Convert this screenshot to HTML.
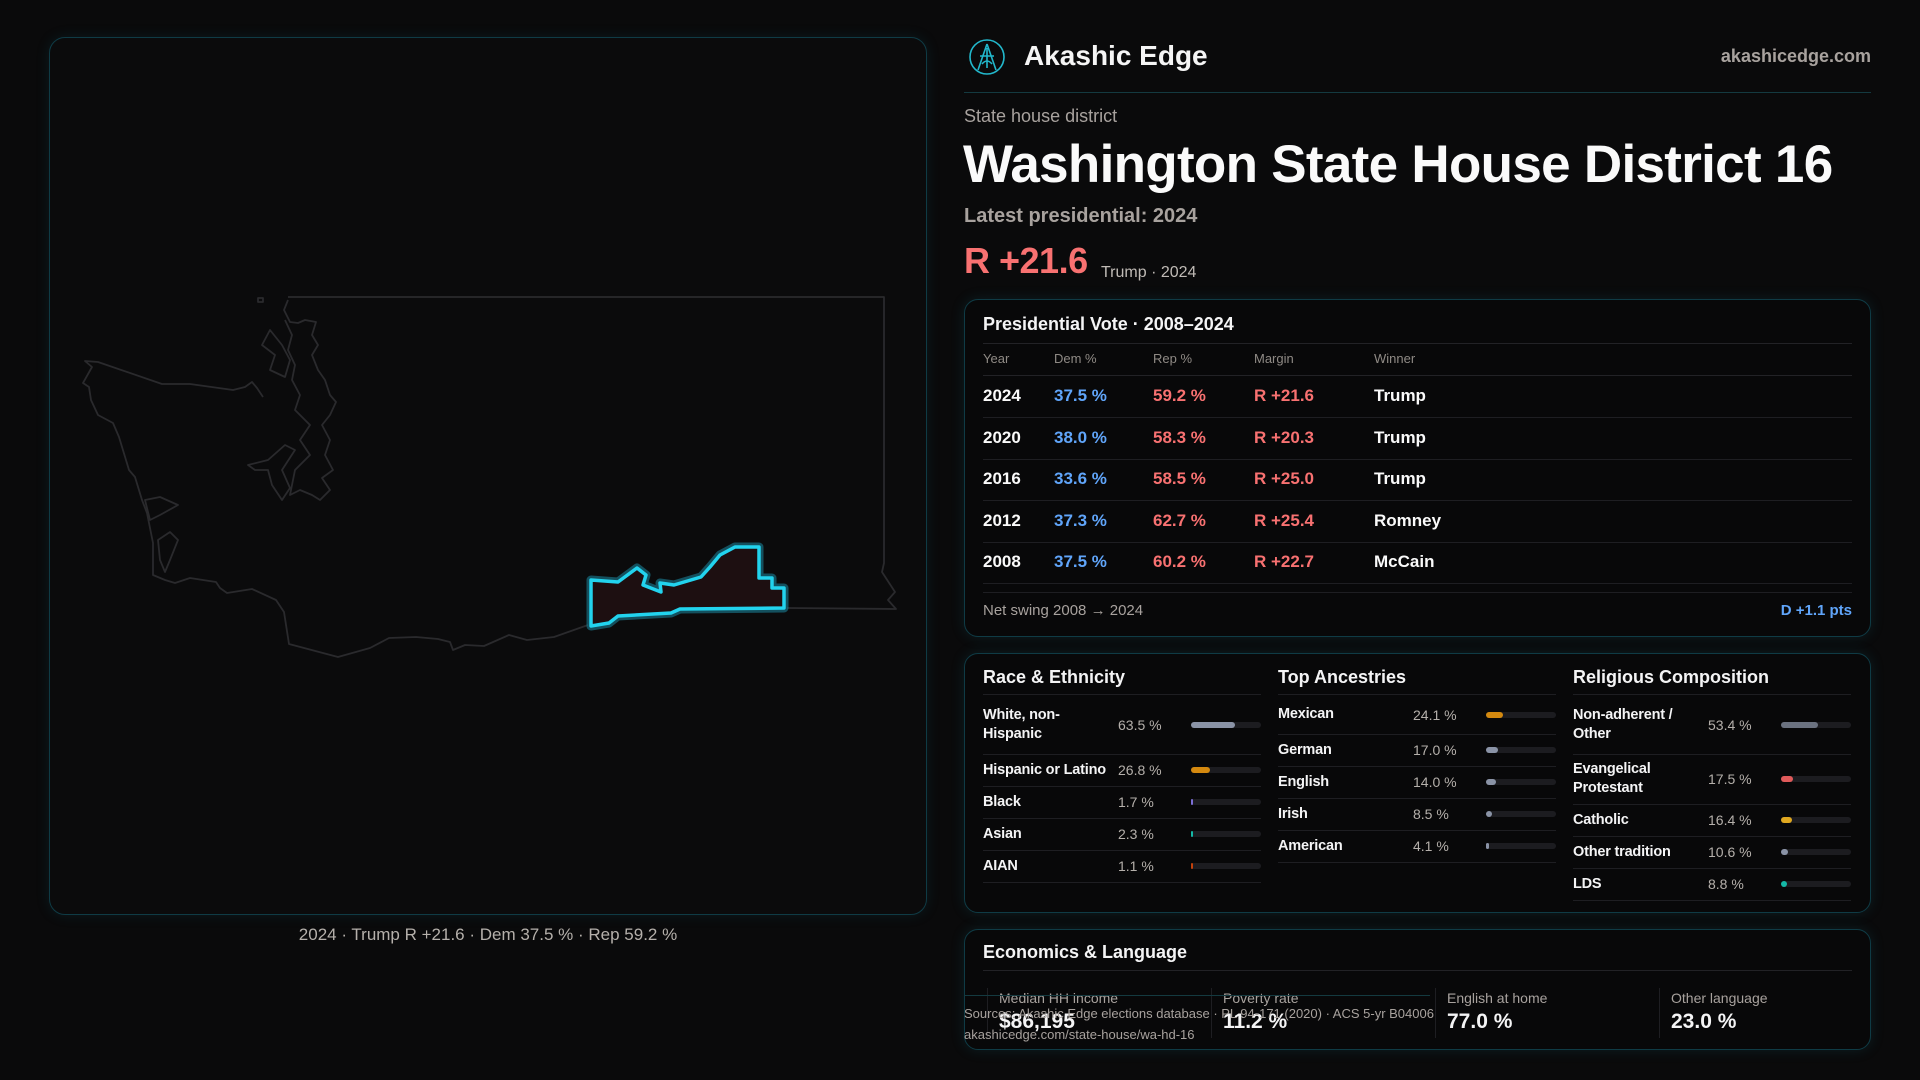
<!DOCTYPE html>
<html><head><meta charset="utf-8">
<style>
*{box-sizing:border-box;margin:0;padding:0}
body{width:1920px;height:1080px;background:#0a0a0b;font-family:"Liberation Sans",sans-serif;color:#f4f4f5;position:relative;overflow:hidden}
.abs{position:absolute;white-space:nowrap}
.card{position:absolute;left:964px;width:907px;border:1px solid #0f3b45;border-radius:14px;background:#080809;box-shadow:0 0 14px rgba(20,120,140,0.18)}
.muted{color:#a8a29e}
.line{position:absolute;height:1px;background:#222226}
.dem{color:#60a5fa}.rep{color:#f87171}
</style></head><body>
<div style="position:absolute;left:49px;top:37px;width:878px;height:878px;border:1px solid #0f3b45;border-radius:16px;background:#0b0b0c;box-shadow:0 0 14px rgba(20,120,140,0.15)"></div>
<svg class="abs" style="left:0;top:0" width="960" height="1080">
<g fill="none" stroke="#2a2a2d" stroke-width="1.8" stroke-linejoin="round">
<path d="M288,297 L884,297 L884,563 L882,572 L895,592 L888,600 L896,609 L787,608 M588,625 L554,637 L527,640 L509,635 L484,646 L465,645 L453,650 L450,642 L438,639 L416,637 L389,638 L370,648 L338,657 L289,644 L284,612 L276,600 L252,589 L227,593 L220,588 L216,582 L190,578 L175,583 L165,580 L153,575 L153,543 L147,513 L142,500 L135,477 L129,470 L119,437 L113,423 L98,415 L91,400 L89,387 L83,383 L92,367 L85,361 L98,362 L162,384 L190,384 L233,390 L245,387 L252,382 L257,388 L263,397"/>
<path d="M288,300 L284,310 L290,322 L298,323 L305,320 L316,322 L312,335 L318,345 L312,355 L318,370 L325,380 L330,395 L336,402 L330,415 L322,425 L330,440 L325,455 L333,470 L322,478 L330,490 L320,500 L312,495 L300,490 L290,495 L295,470 L310,455 L300,440 L310,425 L295,410 L300,395 L292,380 L295,365 L288,350 L292,335 L285,320 M270,330 L262,345 L275,355 L270,370 L285,377 L290,360 L282,345 Z M248,465 L268,460 L285,445 L295,450 L282,470 L290,488 L282,500 L272,485 L268,470 L255,470 Z M145,500 L160,497 L178,505 L160,515 L150,520 Z M158,540 L170,532 L178,540 L170,560 L165,572 L160,560 Z M258,298 L263,298 L263,302 L258,302 Z"/>
</g>
<polygon points="591,580 618,582 637,568 646,575 643,585 661,592 660,583 674,585 701,577 710,567 720,555 735,547 759,547 759,578 772,578 772,588 784,588 784,608 680,609 671,613 618,616 609,623 591,626" fill="#1d0f11" stroke="#1a7f95" stroke-width="9" stroke-linejoin="round" opacity="0.6"/>
<polygon points="591,580 618,582 637,568 646,575 643,585 661,592 660,583 674,585 701,577 710,567 720,555 735,547 759,547 759,578 772,578 772,588 784,588 784,608 680,609 671,613 618,616 609,623 591,626" fill="#1d0f11" stroke="#22d3ee" stroke-width="3.5" stroke-linejoin="round"/>
</svg>
<div class="abs muted" style="left:0;width:976px;text-align:center;top:925px;font-size:17px;color:#b5b0ab">2024 · Trump R +21.6 · Dem 37.5 % · Rep 59.2 %</div>

<svg class="abs" style="left:968px;top:38px" width="38" height="38" viewBox="0 0 38 38"><g fill="none" stroke="#22b8cc" stroke-width="1.6"><circle cx="19" cy="19" r="17"/><path d="M19,6 L10,32 M19,6 L28,32 M12,18 L26,18 M19,10 L19,30 M14,26 Q19,20 24,26"/></g></svg>
<div class="abs" style="left:1024px;top:40px;font-size:28px;font-weight:bold;color:#f5f5f5">Akashic Edge</div>
<div class="abs muted" style="right:49px;top:46px;font-size:18px;font-weight:bold;color:#a8a29e">akashicedge.com</div>
<div class="line" style="left:964px;width:907px;top:92px;background:#143a40"></div>
<div class="abs muted" style="left:964px;top:106px;font-size:18px">State house district</div>
<div class="abs" style="left:963px;top:134px;font-size:53px;font-weight:bold;letter-spacing:-0.7px;color:#fafafa">Washington State House District 16</div>
<div class="abs muted" style="left:964px;top:205px;font-size:20px;font-weight:bold">Latest presidential: 2024</div>
<div class="abs rep" style="left:964px;top:240px;font-size:36px;font-weight:bold;letter-spacing:-0.5px;color:#f87171">R +21.6</div>
<div class="abs muted" style="left:1101px;top:264px;font-size:16px;color:#c0bbb6">Trump · 2024</div>

<div class="card" style="top:299px;height:338px">
<div class="abs" style="left:18px;top:14px;font-size:18px;font-weight:bold">Presidential Vote · 2008–2024</div>
<div class="line" style="left:18px;right:18px;top:43px"></div>
<div id="tbl"></div>
<div class="abs muted" style="left:18px;top:302px;font-size:15px">Net swing 2008 → 2024</div>
<div class="abs dem" style="right:18px;top:302px;font-size:15px;font-weight:bold">D +1.1 pts</div>
</div>

<div class="card" style="top:653px;height:260px" id="demo"></div>

<div class="card" style="top:929px;height:121px">
<div class="abs" style="left:18px;top:12px;font-size:18px;font-weight:bold">Economics &amp; Language</div>
<div class="line" style="left:18px;right:18px;top:40px"></div>
<div id="econ"></div>
</div>
<div class="line" style="left:964px;width:466px;top:995px;background:#143a40"></div>
<div class="abs muted" style="left:964px;top:1006px;font-size:13px;color:#a8a29e">Sources: Akashic Edge elections database · PL 94-171 (2020) · ACS 5-yr B04006</div>
<div class="abs muted" style="left:964px;top:1027px;font-size:13px;color:#a8a29e">akashicedge.com/state-house/wa-hd-16</div>

<script>
const years=["2024","2020","2016","2012","2008"];
const demPct=[37.5,38.0,33.6,37.3,37.5];
const repPct=[59.2,58.3,58.5,62.7,60.2];
const margins=["R +21.6","R +20.3","R +25.0","R +25.4","R +22.7"];
const winners=["Trump","Trump","Trump","Romney","McCain"];
const raceLabels=["White, non-\nHispanic","Hispanic or Latino","Black","Asian","AIAN"];
const raceValues=[63.5,26.8,1.7,2.3,1.1];
const ancLabels=["Mexican","German","English","Irish","American"];
const ancValues=[24.1,17.0,14.0,8.5,4.1];
const relLabels=["Non-adherent /\nOther","Evangelical\nProtestant","Catholic","Other tradition","LDS"];
const relValues=[53.4,17.5,16.4,10.6,8.8];
const econLabels=["Median HH income","Poverty rate","English at home","Other language"];
const econValues=["$86,195","11.2 %","77.0 %","23.0 %"];

function mk(parent,css,txt){const d=document.createElement('div');d.className='abs';d.style.cssText=css;if(txt!==undefined)d.textContent=txt;parent.appendChild(d);return d;}
const tbl=document.getElementById('tbl');
const cols=[18,89,188,289,409];
["Year","Dem %","Rep %","Margin","Winner"].forEach((h,i)=>{const e=mk(tbl,`left:${cols[i]}px;top:51px;font-size:13px;color:#8f8a85`,h);

});
mk(tbl,'left:18px;right:18px;top:75px;height:1px;background:#222226');
years.forEach((y,i)=>{
 const top=86+i*41.5;
 const vals=[y,demPct[i].toFixed(1)+' %',repPct[i].toFixed(1)+' %',margins[i],winners[i]];
 const colors=['#fafafa','#60a5fa','#f87171','#f87171','#fafafa'];
 vals.forEach((v,j)=>{const e=mk(tbl,`left:${cols[j]}px;top:${top}px;font-size:17px;font-weight:bold;color:${colors[j]}`,v);
 
 });
 mk(tbl,`left:18px;right:18px;top:${top+31}px;height:1px;background:#1e1e22`);
});
mk(tbl,'left:18px;right:18px;top:292px;height:1px;background:#1e1e22');

const demo=document.getElementById('demo');
const groups=[["Race & Ethnicity",raceLabels,raceValues,['#8a93a6','#d4890f','#7c6fd6','#14b8a6','#c2410c']],
["Top Ancestries",ancLabels,ancValues,['#d4890f','#8a93a6','#8a93a6','#8a93a6','#8a93a6']],
["Religious Composition",relLabels,relValues,['#6b7280','#e05a5a','#e0a820','#8a93a6','#14b8a6']]];
groups.forEach((g,gi)=>{
 const x=18+gi*295;
 const t=mk(demo,`left:${x}px;top:13px;font-size:18px;font-weight:bold`,g[0]);
 
 
 mk(demo,`left:${x}px;width:278px;top:40px;height:1px;background:#1e1e22`);
 let y=41;
 g[1].forEach((lab,i)=>{
  const two=lab.indexOf('\n')>=0;
  let rh=two?(gi==2&&i==1?50:59):32;
  if(gi==1&&i==0)rh=39;
  const l=mk(demo,`left:${x}px;top:${y}px;height:${rh}px;white-space:pre;display:flex;align-items:center;font-size:14.5px;font-weight:bold;line-height:19px;letter-spacing:-0.2px`,lab);
  
  
  const v=mk(demo,`left:${x+135}px;top:${y}px;height:${rh}px;display:flex;align-items:center;font-size:14px;color:#b5b0ab`,g[2][i].toFixed(1)+' %');
  
  
  const tr=mk(demo,`left:${x+208}px;top:${y+rh/2-3}px;width:70px;height:6px;border-radius:3px;background:#1c1c20`);
  
  
  const f=mk(tr,`left:0;top:0;height:6px;border-radius:3px;width:${Math.max(1.5,70*g[2][i]/100)}px;background:${g[3][i]}`);
  
  
  y+=rh;
  mk(demo,`left:${x}px;width:278px;top:${y}px;height:1px;background:#1e1e22`);
 });
});

const econ=document.getElementById('econ');
econLabels.forEach((lab,i)=>{
 const x=22+i*224;
 mk(econ,`left:${x}px;top:58px;width:1px;height:50px;background:#1e1e22`);
 const l=mk(econ,`left:${x+12}px;top:60px;font-size:14px;color:#a8a29e`,lab);
 
 
 const v=mk(econ,`left:${x+12}px;top:80px;font-size:21px;font-weight:bold`,econValues[i]);
 
 
});
</script>
</body></html>
